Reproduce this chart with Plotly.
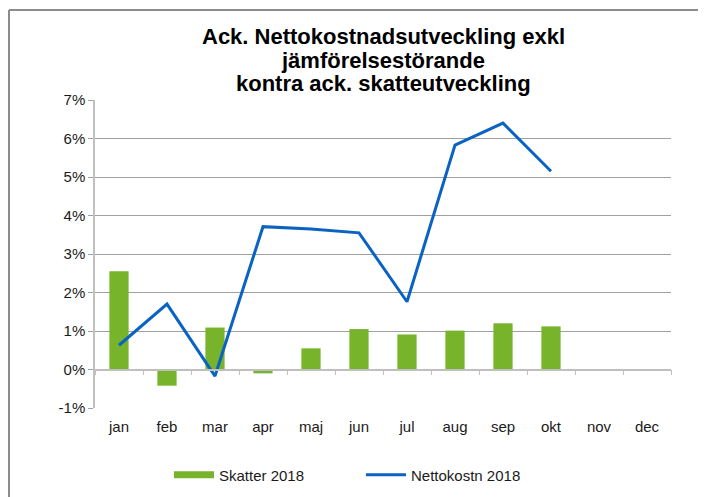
import plotly.graph_objects as go

months = ["jan", "feb", "mar", "apr", "maj", "jun", "jul", "aug", "sep", "okt", "nov", "dec"]
skatter_2018 = [0.0255, -0.0042, 0.0109, -0.0010, 0.0055, 0.0105, 0.0091, 0.0101, 0.0120, 0.0112, None, None]
nettokostn_2018 = [0.0063, 0.0170, -0.0017, 0.0371, 0.0365, 0.0355, 0.0176, 0.0583, 0.0640, 0.0515, None, None]
y_ticks = [-0.01, 0.0, 0.01, 0.02, 0.03, 0.04, 0.05, 0.06, 0.07]
y_tick_labels = ["-1%", "0%", "1%", "2%", "3%", "4%", "5%", "6%", "7%"]
title_lines = ["Ack. Nettokostnadsutveckling exkl", "jämförelsestörande", "kontra ack. skatteutveckling"]

FONT = "Liberation Sans, Arial, sans-serif"
GREEN = "#77B32B"
BLUE = "#0A63C2"

fig = go.Figure()
fig.add_trace(go.Bar(
    x=months, y=skatter_2018, name="Skatter 2018", showlegend=False,
    marker=dict(color=GREEN, line=dict(width=0)), width=0.4,
))
# legend-only entry giving the wide green swatch
fig.add_trace(go.Scatter(
    x=months, y=[None] * len(months), name="Skatter 2018", mode="lines",
    line=dict(color=GREEN, width=7), hoverinfo="skip",
))
fig.add_trace(go.Scatter(
    x=months, y=nettokostn_2018, name="Nettokostn 2018", mode="lines",
    line=dict(color=BLUE, width=3),
))
# helper trace for the category axis drawn at 0 %
fig.add_trace(go.Scatter(
    x=months, y=[None] * len(months), xaxis="x2", showlegend=False,
    hoverinfo="skip", mode="lines",
))

annotations = []
for txt, yy in zip(title_lines, [1.206, 1.128, 1.053]):
    annotations.append(dict(
        text=txt, xref="paper", yref="paper", x=0.5, y=yy,
        xanchor="center", yanchor="middle", showarrow=False,
        font=dict(family=FONT, size=22, color="#000000", weight="bold"),
    ))

fig.update_layout(
    width=706, height=497,
    margin=dict(l=87, r=43, t=92, b=97, autoexpand=False),
    paper_bgcolor="white", plot_bgcolor="white",
    font=dict(family=FONT, size=15, color="#1a1a1a"),
    showlegend=True,
    legend=dict(orientation="h", xref="container", yref="container",
                x=161 / 706, xanchor="left", y=1 - 467 / 497, yanchor="middle",
                font=dict(family=FONT, size=15, color="#1a1a1a"),
                itemwidth=40, entrywidthmode="pixels", entrywidth=137),
    annotations=annotations,
    xaxis=dict(
        type="category", categoryorder="array", categoryarray=months,
        range=[-0.5, 11.5], showline=False, showgrid=False, zeroline=False,
        ticks="outside", ticklen=5, tickcolor="rgba(0,0,0,0)", automargin=False,
        tickfont=dict(family=FONT, size=15, color="#1a1a1a"),
    ),
    xaxis2=dict(
        type="category", categoryorder="array", categoryarray=months,
        range=[-0.5, 11.5], overlaying="x", anchor="free", position=0.125,
        showline=True, linecolor="#BFBFBF", linewidth=1.5,
        ticks="outside", tickson="boundaries", ticklen=5, tickcolor="#BFBFBF",
        showticklabels=False, showgrid=False, zeroline=False, automargin=False,
    ),
    yaxis=dict(
        range=[-0.01, 0.07], tickvals=y_ticks, ticktext=y_tick_labels,
        showgrid=True, gridcolor="#A0A0A0", gridwidth=1,
        zeroline=False, showline=True, linecolor="#BFBFBF", linewidth=1.5,
        ticks="outside", ticklen=5, tickcolor="#A0A0A0", automargin=False,
        tickfont=dict(family=FONT, size=15, color="#1a1a1a"),
    ),
    shapes=[
        dict(type="line", xref="paper", yref="paper", x0=-0.1493, x1=1.1, y0=1.292, y1=1.292,
             line=dict(color="#8C8C8C", width=2)),
        dict(type="line", xref="paper", yref="paper", x0=-0.1493, x1=-0.1493, y0=1.292, y1=-0.4,
             line=dict(color="#8C8C8C", width=2)),
    ],
)

fig.write_html("out.html")
